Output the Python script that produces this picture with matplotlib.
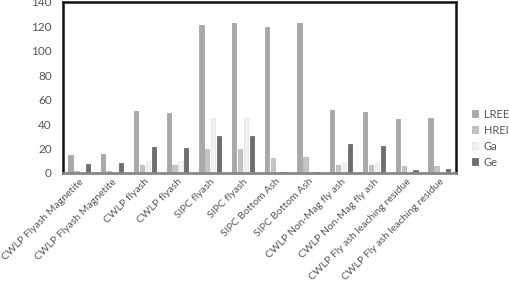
import matplotlib
matplotlib.use("Agg")
import matplotlib.pyplot as plt
import numpy as np

plt.rcParams["font.family"] = ["Lato", "DejaVu Sans"]

categories = ["CWLP Flyash Magnetite", "CWLP Flyash Magnetite", "CWLP flyash", "CWLP flyash",
              "SIPC flyash", "SIPC flyash", "SIPC Bottom Ash", "SIPC Bottom Ash",
              "CWLP Non-Mag fly ash", "CWLP Non-Mag fly ash",
              "CWLP Fly ash leaching residue", "CWLP Fly ash leaching residue"]
lree = [15.0, 15.9, 50.9, 49.2, 121.4, 123.0, 119.5, 122.5, 51.4, 50.0, 43.8, 44.8]
hree = [1.2, 1.2, 6.6, 6.3, 19.7, 19.7, 12.3, 13.4, 6.8, 6.6, 5.7, 5.5]
ga = [1.0, 1.0, 10.0, 10.0, 45.0, 45.0, 0.5, 0.5, 8.0, 8.0, 0.5, 0.5]
ge = [7.7, 8.5, 21.0, 20.2, 30.0, 30.0, 0.8, 0.8, 23.5, 22.4, 2.2, 3.0]
series_names = ["LREE", "HREI", "Ga", "Ge"]
yticks = [0, 20, 40, 60, 80, 100, 120, 140]

fig = plt.figure(figsize=(5.1, 2.84), dpi=100)
ax = fig.add_axes([0.1235, 0.391, 0.77, 0.602])

x = np.arange(len(categories))
w = 0.13
offsets = [-0.27, -0.09, 0.09, 0.27]
colors = ["#a9a9a9", "#c4c4c4", "#f2f2f2", "#6e6e6e"]
edges = ["#9a9a9a", "#b0b0b0", "#e2e2e2", "#5e5e5e"]
for vals, off, c, e, name in zip([lree, hree, ga, ge], offsets, colors, edges, series_names):
    ax.bar(x + off, vals, width=w, color=c, edgecolor=e, linewidth=0.5, label=name)

ax.set_xlim(-0.5, len(categories) - 0.5)
ax.set_ylim(0, 140)
ax.set_yticks(yticks)
ax.tick_params(axis="y", length=0, labelsize=8.5, labelcolor="#555555", pad=8)
ax.tick_params(axis="x", length=0, labelsize=7.5, labelcolor="#555555", pad=3)
ax.set_xticks(x)
ax.set_xticklabels(categories, rotation=45, ha="right", rotation_mode="anchor")
for s in ["left", "top", "right"]:
    ax.spines[s].set_linewidth(1.8)
    ax.spines[s].set_color("#111111")
ax.spines["bottom"].set_linewidth(2.0)
ax.spines["bottom"].set_color("#888888")

handles, labels = ax.get_legend_handles_labels()
leg = fig.legend(handles, labels, loc="center left", bbox_to_anchor=(0.925, 0.514),
                 bbox_transform=fig.transFigure, frameon=False, borderpad=0, borderaxespad=0,
                 fontsize=8, handlelength=0.6, handleheight=0.6, handletextpad=0.5,
                 labelspacing=0.45)
for t in leg.get_texts():
    t.set_color("#555555")

fig.savefig("out.png", dpi=100)
